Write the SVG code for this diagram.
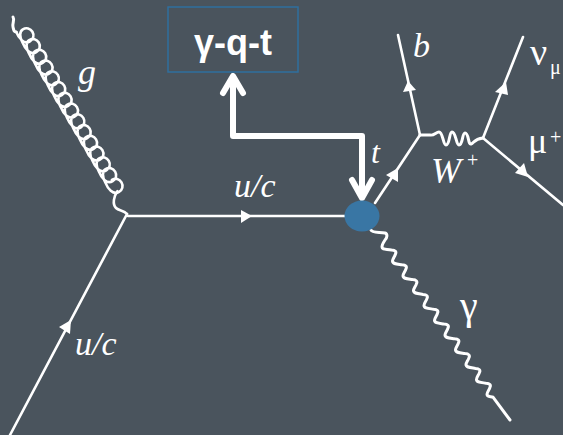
<svg xmlns="http://www.w3.org/2000/svg" width="563" height="435" viewBox="0 0 563 435">
<style>
.l{fill:none;stroke:#fff;stroke-width:2.6;stroke-linecap:round;stroke-linejoin:round}
.w{fill:none;stroke:#fff;stroke-width:3;stroke-linecap:round;stroke-linejoin:round}
.a{fill:#fff;stroke:none}
.t{font-style:italic;fill:#fff}
.u{fill:#fff}
.h{fill:none;stroke:#fff;stroke-width:6;stroke-linecap:round;stroke-linejoin:round}
</style>
<rect width="563" height="435" fill="#4a545d"/>
<g id="connectors">
<path class="w" d="M13,17 C15,20 12,23 13,27 C14,31 14,32 16.300,32"/>
<path class="l" transform="translate(16.300,32) rotate(59.400)" d="M0,0 c6,1 15,0 15,-7 c0,-4 -3,-7 -7,-7 c-4,0 -7,3 -7,7 c0,4 5,7 11.500,7 c6,1 15,0 15,-7 c0,-4 -3,-7 -7,-7 c-4,0 -7,3 -7,7 c0,4 5,7 11.500,7 c6,1 15,0 15,-7 c0,-4 -3,-7 -7,-7 c-4,0 -7,3 -7,7 c0,4 5,7 11.500,7 c6,1 15,0 15,-7 c0,-4 -3,-7 -7,-7 c-4,0 -7,3 -7,7 c0,4 5,7 11.500,7 c6,1 15,0 15,-7 c0,-4 -3,-7 -7,-7 c-4,0 -7,3 -7,7 c0,4 5,7 11.500,7 c6,1 15,0 15,-7 c0,-4 -3,-7 -7,-7 c-4,0 -7,3 -7,7 c0,4 5,7 11.500,7 c6,1 15,0 15,-7 c0,-4 -3,-7 -7,-7 c-4,0 -7,3 -7,7 c0,4 5,7 11.500,7 c6,1 15,0 15,-7 c0,-4 -3,-7 -7,-7 c-4,0 -7,3 -7,7 c0,4 5,7 11.500,7 c6,1 15,0 15,-7 c0,-4 -3,-7 -7,-7 c-4,0 -7,3 -7,7 c0,4 5,7 11.500,7 c6,1 15,0 15,-7 c0,-4 -3,-7 -7,-7 c-4,0 -7,3 -7,7 c0,4 5,7 11.500,7 c6,1 15,0 15,-7 c0,-4 -3,-7 -7,-7 c-4,0 -7,3 -7,7 c0,4 5,7 11.500,7 c6,1 15,0 15,-7 c0,-4 -3,-7 -7,-7 c-4,0 -7,3 -7,7 c0,4 5,7 11.500,7 c6,1 15,0 15,-7 c0,-4 -3,-7 -7,-7 c-4,0 -7,3 -7,7 c0,4 5,7 11.500,7 c6,1 15,0 15,-7 c0,-4 -3,-7 -7,-7 c-4,0 -7,3 -7,7 c0,4 5,7 11.500,7 c6,1 15,0 15,-7 c0,-4 -3,-7 -7,-7 c-4,0 -7,3 -7,7"/>
<path class="l" d="M117.400,191.200 C114,196 112,204 116,208 C119,211 124,210 127,214"/>
<path class="l" d="M127,214 L10,435"/>
<path class="l" d="M128,216 H346"/>
<polygon class="a" points="71,320 59,327 70,334"/>
<polygon class="a" points="252,216 241,210 241,223"/>
<path class="l" d="M375,203 L420,135"/>
<polygon class="a" points="398,168 386,175 398,182"/>
<path class="l" d="M398,35 L420,135"/>
<polygon class="a" points="408,81 403,92 416,90"/>
<path class="l" d="M523,37 L483,138"/>
<polygon class="a" points="506,82 495,92 508,95"/>
<path class="l" d="M483,138 L563,205"/>
<polygon class="a" points="528,177 515,173 524,163"/>
<path class="w" d="M420,135 H430 C434,136 436,132 439,132 C443,132 443,145 446,145 C450,145 449,132 452,132 C456,132 456,145 459,145 C463,145 462,133 465,133 C469,133 468,145 471,144 C474,143 474,139 483,138"/>
<path class="w" d="M371,230 c1,3 8,2 14,3 c3,1 2,5 0,7 c-2,3 -3,5 -3,7 c0,3 4,2 9.500,3 c4,0 5,2 4,4 c-1,3 -3,5 -3,7 c0,3 4,3 9.500,3.800 c4,0 5,2 4,4 c-1,3 -3,5 -3,7 c0,3 4,3 9.500,3.800 c4,0 5,2 4,4 c-1,3 -3,5 -3,7 c0,3 4,3 9.500,3.800 c4,0 5,2 4,4 c-1,3 -3,5 -3,7 c0,3 4,3 9.500,3.800 c4,0 5,2 4,4 c-1,3 -3,5 -3,7 c0,3 4,3 9.500,3.800 c4,0 5,2 4,4 c-1,3 -3,5 -3,7 c0,3 4,3 9.500,3.800 c4,0 5,2 4,4 c-1,3 -3,5 -3,7 c0,3 4,3 9.500,3.800 c4,0 5,2 4,4 c-1,3 -3,5 -3,7 c0,3 4,3 9.500,3.800 c4,0 5,2 4,4 c-1,3 -3,5 -3,7 c0,3 4,3 9.500,3.800 c4,0 5,2 4,4 c-1,3 -3,5 -3,7 c0,3 4,2 6,3 L510,420"/>
<path class="h" d="M233,84 V136 H362 V196"/>
<path class="h" d="M223,93 L233,76 L243,93"/>
<path class="h" d="M352,180 L362,198 L372,180"/>
</g>
<g id="vertex">
<ellipse cx="362" cy="216" rx="17.500" ry="15.500" fill="#3976a4"/>
</g>
<g id="box">
<rect x="168" y="7" width="130" height="65" fill="none" stroke="#2f6f9e" stroke-width="1.500"/>
<text x="233" y="55" text-anchor="middle" font-family="'Liberation Sans',sans-serif" font-weight="700" font-size="36" fill="#fff">γ-q-t</text>
</g>
<g id="labels">
<text class="t" font-family="Liberation Serif" x="78" y="84" font-size="36">g</text>
<text class="t" font-family="Liberation Serif" x="234" y="197" font-size="34">u/c</text>
<text class="t" font-family="Liberation Serif" x="75" y="355" font-size="34">u/c</text>
<text class="t" font-family="Liberation Serif" x="371" y="163" font-size="32">t</text>
<text class="t" font-family="Liberation Serif" x="413" y="57" font-size="34">b</text>
<text class="t" font-family="Liberation Serif" x="431" y="183" font-size="36">W</text>
<text class="u" font-family="Liberation Serif" x="467" y="167" font-size="20">+</text>
<text class="u" font-family="Liberation Serif" x="530" y="65" font-size="38">ν</text>
<text class="u" font-family="Liberation Serif" x="550" y="74" font-size="20">μ</text>
<text class="u" font-family="Liberation Serif" x="528" y="153" font-size="36">μ</text>
<text class="u" font-family="Liberation Serif" x="550" y="144" font-size="20">+</text>
<text class="u" font-family="Liberation Serif" x="460" y="319" font-size="40">γ</text>
</g>
</svg>
